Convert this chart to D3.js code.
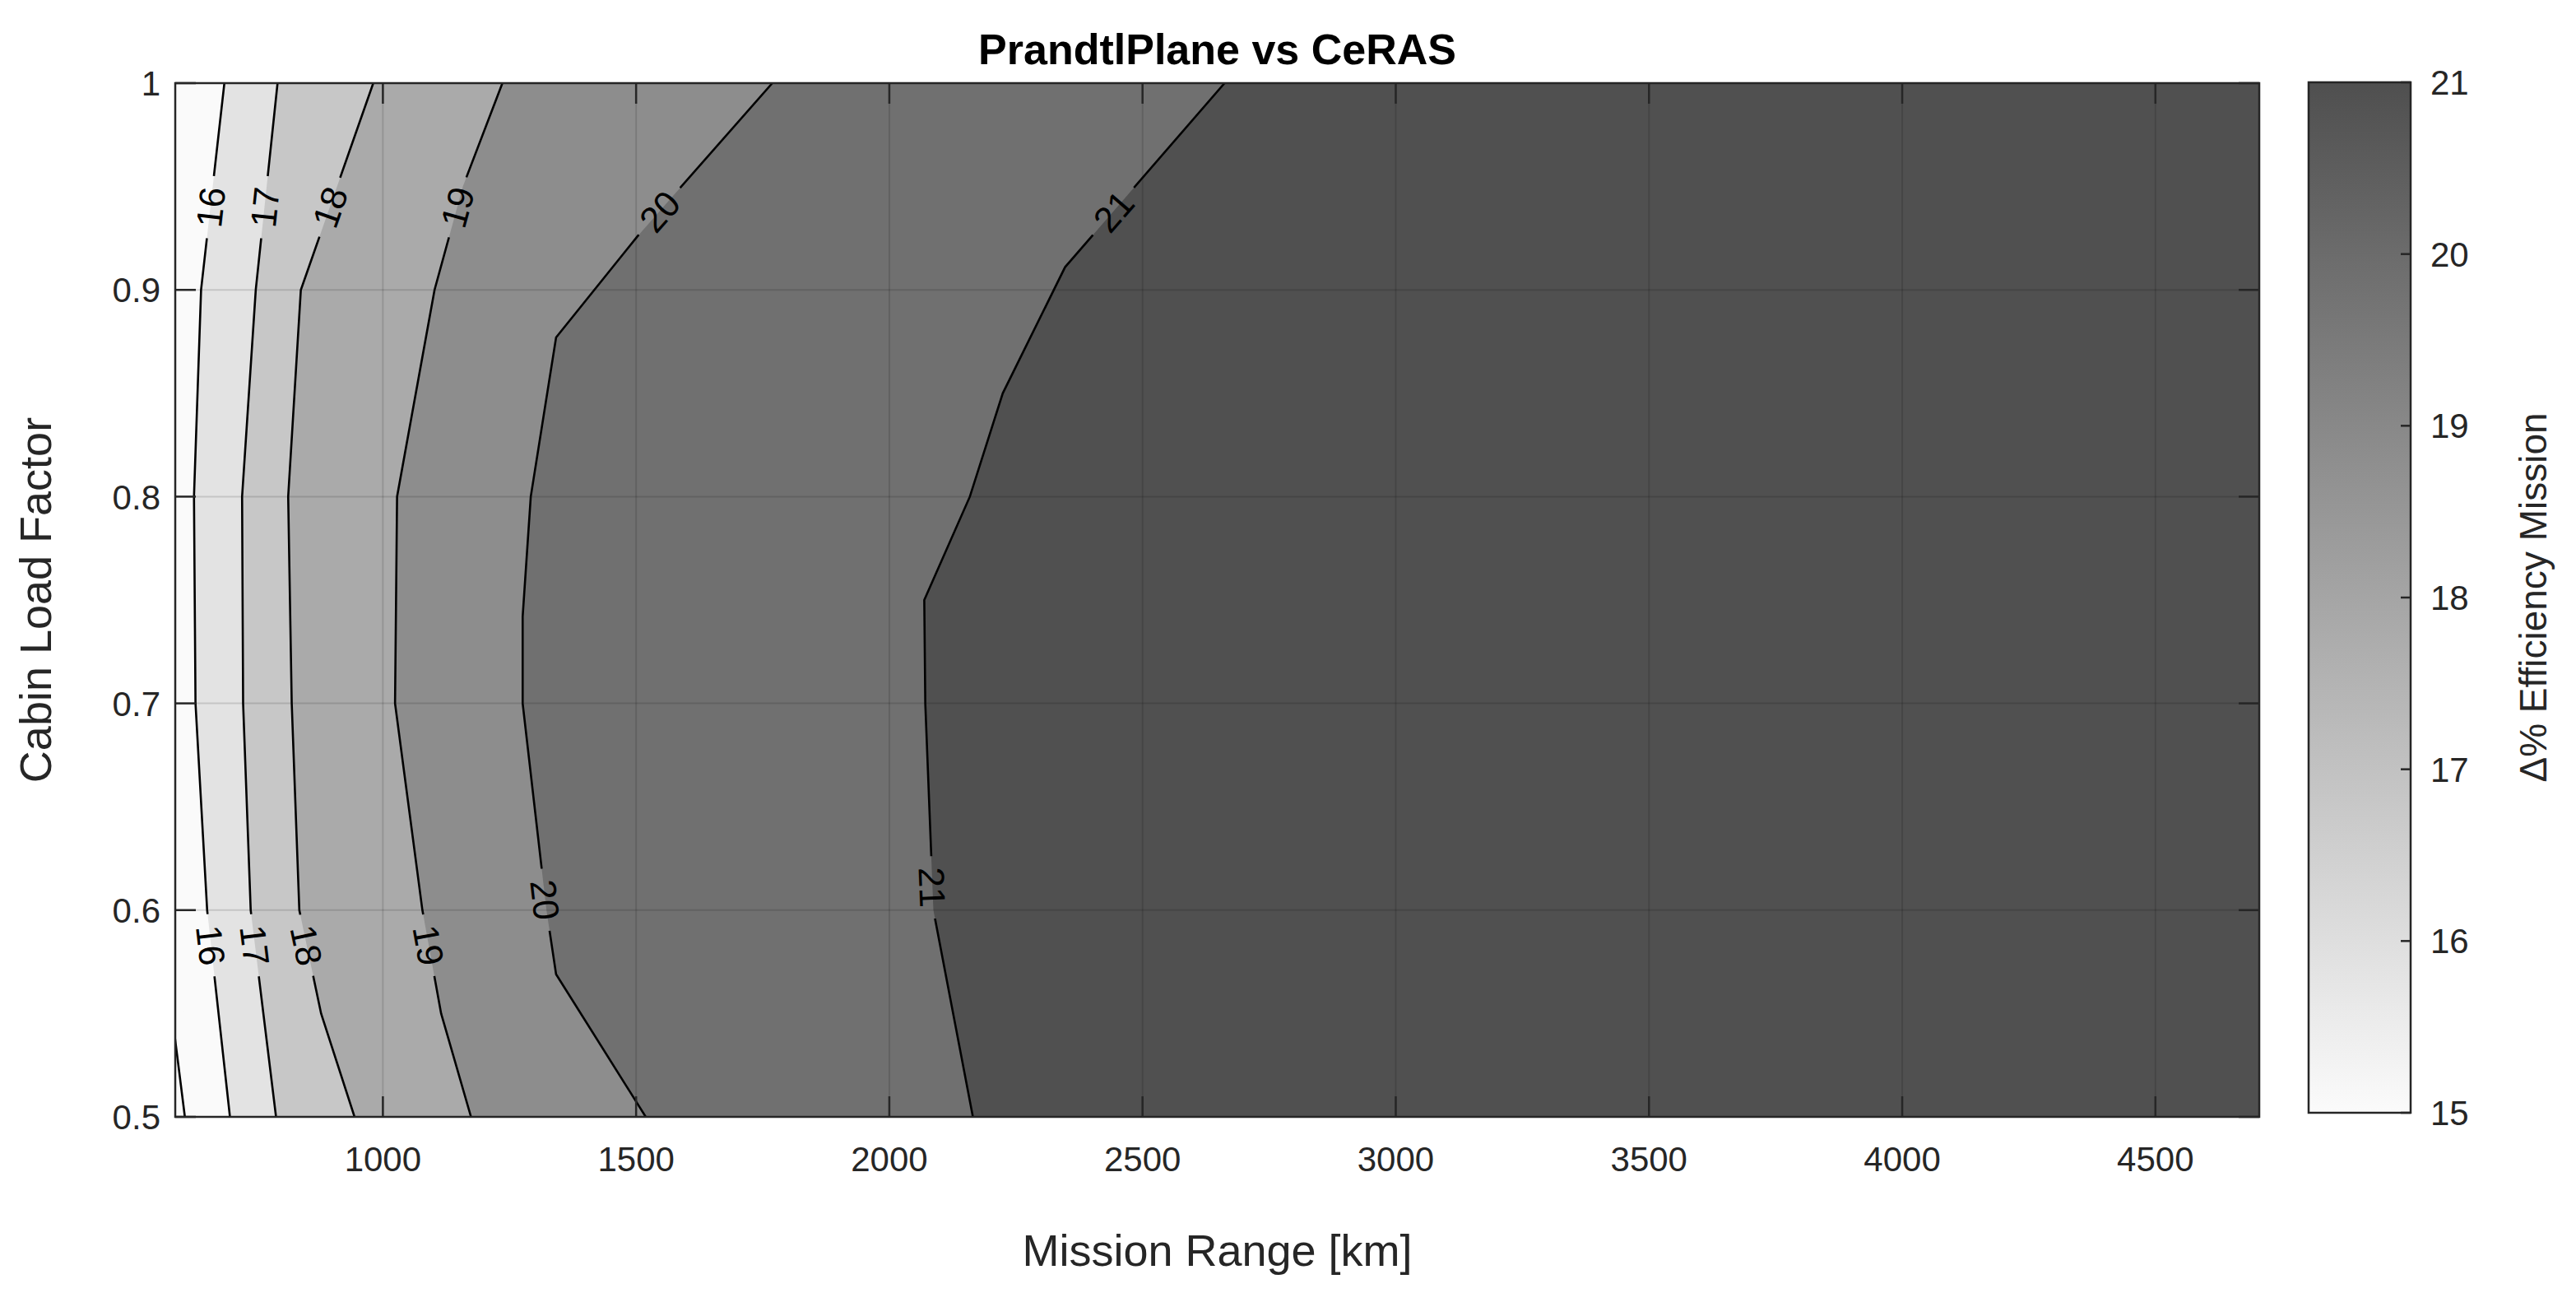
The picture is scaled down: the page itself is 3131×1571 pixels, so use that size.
<!DOCTYPE html>
<html>
<head>
<meta charset="utf-8">
<script src="https://cdn.jsdelivr.net/npm/d3@7"></script>
<style>
  body { margin: 0; background: #fff; }
  text { font-family: "Liberation Sans", Arial, sans-serif; fill: #262626; }
</style>
</head>
<body>
<script>
// contour levels and their lines as [range km, load factor]
var levels = [15, 16, 17, 18, 19, 20, 21];
var line15 = [[575, 0.548], [589, 0.539], [609, 0.5]];
var line16 = [[687, 1.0], [641, 0.9], [627, 0.8], [630, 0.7], [653, 0.6], [698, 0.5]];
var line17 = [[792, 1.0], [749, 0.9], [722, 0.8], [724, 0.7], [739, 0.6], [789, 0.5]];
var line18 = [[981, 1.0], [838, 0.9], [813, 0.8], [820, 0.7], [835, 0.6], [878, 0.55], [944, 0.5]];
var line19 = [[1236, 1.0], [1158, 0.95], [1102, 0.9], [1028, 0.8], [1024, 0.7], [1078, 0.6], [1115, 0.55], [1174, 0.5]];
var line20 = [[1769, 1.0], [1503, 0.926], [1342, 0.877], [1292, 0.8], [1276, 0.742], [1276, 0.7], [1323, 0.6], [1342, 0.569], [1519, 0.5]];
var line21 = [[2662, 1.0], [2347, 0.911], [2224, 0.85], [2159, 0.8], [2069, 0.75], [2071, 0.7], [2087, 0.6], [2165, 0.5]];
var contourLines = [line15, line16, line17, line18, line19, line20, line21];
var bandColors = ["#fafafa", "#e3e3e3", "#c7c7c7", "#aaaaaa", "#8d8d8d", "#707070", "#505050"];
// label load factors: [top, bottom]; null = no label
var labelAt = [null, [0.94, 0.583], [0.94, 0.583], [0.94, 0.583], [0.94, 0.583], [0.938, 0.605], [0.938, 0.611]];
var xTicks = [1000, 1500, 2000, 2500, 3000, 3500, 4000, 4500];
var yTicks = [0.5, 0.6, 0.7, 0.8, 0.9, 1];
var cbTicks = [15, 16, 17, 18, 19, 20, 21];

var W = 3131, H = 1571;
var m = {left: 213, right: 2746, top: 101, bottom: 1357};

var svg = d3.select("body").append("svg").attr("width", W).attr("height", H);
var x = d3.scaleLinear().domain([590, 4705]).range([m.left, m.right]);
var y = d3.scaleLinear().domain([0.5, 1]).range([m.bottom, m.top]);

var defs = svg.append("defs");
defs.append("clipPath").attr("id", "clip").append("rect")
    .attr("x", m.left).attr("y", m.top).attr("width", m.right - m.left).attr("height", m.bottom - m.top);

var plot = svg.append("g").attr("clip-path", "url(#clip)");
plot.append("rect").attr("x", m.left).attr("y", m.top)
    .attr("width", m.right - m.left).attr("height", m.bottom - m.top).attr("fill", bandColors[0]);

var line = d3.line().x(function (d) { return x(d[0]); }).y(function (d) { return y(d[1]); });

// filled bands: each line closed to the right side
contourLines.forEach(function (pts, i) {
  var poly = pts.concat([[5000, 0.5], [5000, 1.0]]);
  plot.append("path").attr("d", line(poly) + "Z").attr("fill", bandColors[i]);
});

// grid
plot.selectAll(".gx").data(xTicks).enter().append("line")
    .attr("x1", function (d) { return x(d); }).attr("x2", function (d) { return x(d); })
    .attr("y1", m.top).attr("y2", m.bottom).attr("stroke", "#000").attr("stroke-opacity", 0.13).attr("stroke-width", 2);
plot.selectAll(".gy").data(yTicks).enter().append("line")
    .attr("y1", function (d) { return y(d); }).attr("y2", function (d) { return y(d); })
    .attr("x1", m.left).attr("x2", m.right).attr("stroke", "#000").attr("stroke-opacity", 0.13).attr("stroke-width", 2);

// label positions on the lines
function pointAt(pts, lf) {
  for (var k = 0; k < pts.length - 1; k++) {
    var a = pts[k], b = pts[k + 1];
    if ((lf <= a[1] && lf >= b[1])) {
      var t = (lf - a[1]) / (b[1] - a[1]);
      var px = x(a[0] + t * (b[0] - a[0])), py = y(lf);
      var ang = Math.atan2(y(b[1]) - y(a[1]), x(b[0]) - x(a[0])) * 180 / Math.PI;
      while (ang > 90) ang -= 180;
      while (ang <= -90) ang += 180;
      return {x: px, y: py, a: ang};
    }
  }
  return null;
}
var labels = [];
labelAt.forEach(function (ls, i) {
  if (!ls) return;
  ls.forEach(function (lf) {
    var p = pointAt(contourLines[i], lf);
    if (p) labels.push({x: p.x, y: p.y, a: p.a, t: String(levels[i])});
  });
});

var mask = defs.append("mask").attr("id", "gap").attr("maskUnits", "userSpaceOnUse")
    .attr("x", 0).attr("y", 0).attr("width", W).attr("height", H);
mask.append("rect").attr("width", W).attr("height", H).attr("fill", "#fff");
mask.selectAll("rect.l").data(labels).enter().append("rect")
    .attr("x", -38).attr("y", -26).attr("width", 76).attr("height", 52).attr("fill", "#000")
    .attr("transform", function (d) { return "translate(" + d.x + "," + d.y + ") rotate(" + d.a + ")"; });

var lg = plot.append("g").attr("mask", "url(#gap)");
contourLines.forEach(function (pts) {
  lg.append("path").attr("d", line(pts)).attr("fill", "none").attr("stroke", "#000").attr("stroke-width", 2.6);
});
plot.selectAll("text.cl").data(labels).enter().append("text")
    .attr("transform", function (d) { return "translate(" + d.x + "," + d.y + ") rotate(" + d.a + ")"; })
    .attr("text-anchor", "middle").attr("dy", "0.36em").attr("font-size", 44).style("fill", "#000")
    .text(function (d) { return d.t; });

// axes box and ticks
var axCol = "#262626";
svg.append("rect").attr("x", m.left).attr("y", m.top).attr("width", m.right - m.left).attr("height", m.bottom - m.top)
    .attr("fill", "none").attr("stroke", axCol).attr("stroke-width", 2.5);
var tl = 25;
xTicks.forEach(function (t) {
  [[m.bottom, -tl], [m.top, tl]].forEach(function (s) {
    svg.append("line").attr("x1", x(t)).attr("x2", x(t)).attr("y1", s[0]).attr("y2", s[0] + s[1]).attr("stroke", axCol).attr("stroke-width", 2.5);
  });
  svg.append("text").attr("x", x(t)).attr("y", m.bottom + 66).attr("text-anchor", "middle").attr("font-size", 42).text(t);
});
yTicks.forEach(function (t) {
  [[m.left, tl], [m.right, -tl]].forEach(function (s) {
    svg.append("line").attr("y1", y(t)).attr("y2", y(t)).attr("x1", s[0]).attr("x2", s[0] + s[1]).attr("stroke", axCol).attr("stroke-width", 2.5);
  });
  svg.append("text").attr("x", m.left - 18).attr("y", y(t)).attr("dy", "0.36em").attr("text-anchor", "end").attr("font-size", 42).text(d3.format("~g")(t));
});

svg.append("text").attr("x", (m.left + m.right) / 2).attr("y", 78).attr("text-anchor", "middle")
    .attr("font-size", 52).attr("font-weight", "bold").style("fill", "#000").text("PrandtlPlane vs CeRAS");
svg.append("text").attr("x", (m.left + m.right) / 2).attr("y", 1538).attr("text-anchor", "middle")
    .attr("font-size", 54).text("Mission Range [km]");
svg.append("text").attr("transform", "translate(62," + ((m.top + m.bottom) / 2) + ") rotate(-90)")
    .attr("text-anchor", "middle").attr("font-size", 54).text("Cabin Load Factor");

// colorbar
var cb = {x: 2806, w: 124, top: 100, bottom: 1352};
var cy = d3.scaleLinear().domain([15, 21]).range([cb.bottom, cb.top]);
var grad = defs.append("linearGradient").attr("id", "cbg").attr("x1", 0).attr("x2", 0).attr("y1", 1).attr("y2", 0);
grad.append("stop").attr("offset", 0).attr("stop-color", "#fbfbfb");
grad.append("stop").attr("offset", 1).attr("stop-color", "#4f4f4f");
svg.append("rect").attr("x", cb.x).attr("y", cb.top).attr("width", cb.w).attr("height", cb.bottom - cb.top)
    .attr("fill", "url(#cbg)").attr("stroke", axCol).attr("stroke-width", 2.5);
cbTicks.forEach(function (t) {
  svg.append("line").attr("x1", cb.x + cb.w).attr("x2", cb.x + cb.w - 12).attr("y1", cy(t)).attr("y2", cy(t))
      .attr("stroke", axCol).attr("stroke-width", 2.5);
  svg.append("text").attr("x", cb.x + cb.w + 24).attr("y", cy(t)).attr("dy", "0.36em").attr("font-size", 42).text(t);
});
svg.append("text").attr("transform", "translate(3095," + ((cb.top + cb.bottom) / 2) + ") rotate(-90)")
    .attr("text-anchor", "middle").attr("font-size", 46).text("\u0394% Efficiency Mission");
</script>
</body>
</html>
